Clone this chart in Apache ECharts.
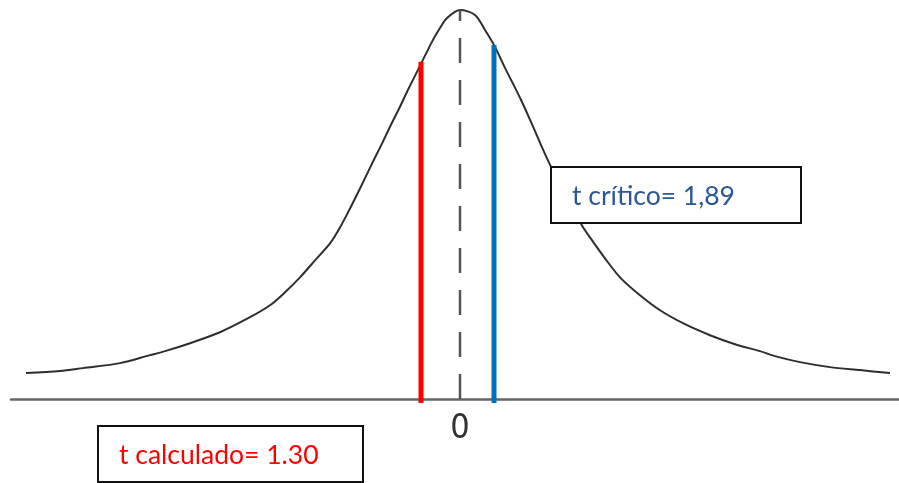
<!DOCTYPE html>
<html>
<head>
<meta charset="utf-8">
<script src="https://cdn.jsdelivr.net/npm/echarts@6/dist/echarts.min.js"></script>
<style>
  html, body { margin: 0; padding: 0; background: #ffffff; }
  #chart { width: 899px; height: 483px; }
</style>
</head>
<body>
<div id="chart"></div>
<script>
// Bell-shaped t curve, sampled along the horizontal axis
const curveT = [
  -4.34, -4.00, -3.77, -3.40, -3.10, -2.95, -2.70, -2.40, -2.10, -1.90,
  -1.75, -1.60, -1.45, -1.30, -1.20, -1.10, -1.00, -0.88, -0.78, -0.70,
  -0.60, -0.52, -0.42, -0.27, -0.20, -0.13, 0.00, 0.15, 0.25, 0.34,
  0.45, 0.60, 0.70, 0.80, 0.89, 1.05, 1.22, 1.30, 1.45, 1.60,
  1.80, 2.00, 2.25, 2.50, 2.75, 3.00, 3.15, 3.40, 3.70, 4.00, 4.30
];
const curveDensity = [
  0.026, 0.028, 0.031, 0.036, 0.044, 0.048, 0.056, 0.067, 0.082, 0.094,
  0.107, 0.122, 0.139, 0.156, 0.172, 0.191, 0.211, 0.236, 0.256, 0.273,
  0.293, 0.310, 0.330, 0.360, 0.372, 0.382, 0.390, 0.385, 0.370, 0.355,
  0.332, 0.302, 0.280, 0.257, 0.237, 0.205, 0.174, 0.162, 0.141, 0.122,
  0.104, 0.089, 0.075, 0.064, 0.055, 0.048, 0.043, 0.037, 0.032, 0.029, 0.026
];

// Vertical markers: position on the axis and height where they meet the curve
const calcLineX = -0.39;
const calcLineTop = 0.338;
const critLineX = 0.34;
const critLineTop = 0.355;
const centerTop = 0.390;

// Text of the two annotation boxes and the axis label
const calcLabel = 't calculado= 1.30';
const critLabel = 't crítico= 1,89';
const axisTickLabels = [0];

const curveData = curveT.map((t, i) => [t, curveDensity[i]]);

const chart = echarts.init(document.getElementById('chart'), null, { renderer: 'canvas' });

// white box with a dark frame, drawn above the curve
function annotationBox(left, top, width, height, text, color, textX) {
  return {
    type: 'group',
    left: left,
    top: top,
    z: 100,
    zlevel: 1,
    children: [
      {
        type: 'rect',
        z: 100,
        zlevel: 1,
        shape: { x: 0, y: 0, width: width, height: height },
        style: { fill: '#ffffff', stroke: '#111111', lineWidth: 2 }
      },
      {
        type: 'text',
        z: 101,
        zlevel: 1,
        x: textX,
        y: height / 2 + 1,
        style: {
          text: text,
          fill: color,
          font: '26.5px Lato, "Open Sans", sans-serif',
          textVerticalAlign: 'middle'
        }
      }
    ]
  };
}

chart.setOption({
  animation: false,
  backgroundColor: '#ffffff',
  grid: { left: 11, right: 0, top: 0, bottom: 64, containLabel: false },
  xAxis: {
    type: 'value',
    min: -4.49,
    max: 4.39,
    splitLine: { show: false },
    axisLine: { show: true, onZero: true, lineStyle: { color: '#666666', width: 2.5 } },
    axisTick: { show: false },
    axisLabel: {
      customValues: axisTickLabels,
      formatter: v => String(v),
      color: '#333333',
      fontFamily: 'DejaVu Sans Condensed, DejaVu Sans',
      fontSize: 34,
      lineHeight: 34,
      margin: -7
    }
  },
  yAxis: {
    type: 'value',
    min: -0.02,
    max: 0.4,
    show: false,
    splitLine: { show: false }
  },
  series: [
    {
      type: 'line',
      data: curveData,
      smooth: 0.3,
      showSymbol: false,
      lineStyle: { color: '#2e2e2e', width: 2 },
      z: 2
    },
    {
      // dashed centre line, drawn from the baseline upward
      type: 'line',
      data: [[0, 0], [0, centerTop]],
      showSymbol: false,
      lineStyle: { color: '#555555', width: 2.5, type: [25, 17] },
      z: 3
    },
    {
      type: 'line',
      data: [[calcLineX, -0.004], [calcLineX, calcLineTop]],
      showSymbol: false,
      lineStyle: { color: '#ff0000', width: 5, cap: 'butt' },
      z: 4
    },
    {
      type: 'line',
      data: [[critLineX, -0.004], [critLineX, critLineTop]],
      showSymbol: false,
      lineStyle: { color: '#0070c0', width: 5, cap: 'butt' },
      z: 4
    }
  ],
  graphic: [
    annotationBox(550, 166, 250, 56, critLabel, '#2b5797', 21),
    annotationBox(97, 425, 265, 56, calcLabel, '#ff0000', 21)
  ]
});
</script>
</body>
</html>
